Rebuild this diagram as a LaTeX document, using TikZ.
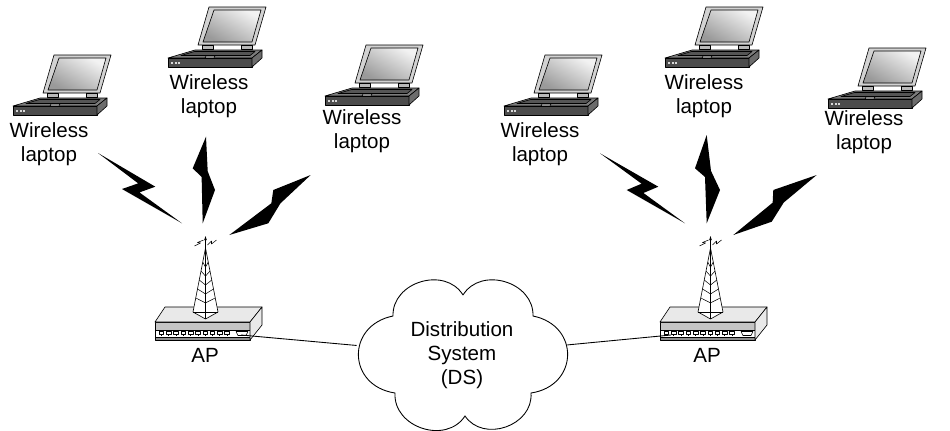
\documentclass[tikz,border=0pt]{standalone}
\usepackage{fontspec}
\setmainfont{Liberation Sans}
\usetikzlibrary{calc,shapes.geometric}

\definecolor{lidgray}{HTML}{D2D2D2}
\definecolor{scrdark}{HTML}{9A9A9A}
\definecolor{scrlight}{HTML}{F2F2F2}
\definecolor{basetop}{HTML}{7C7C7C}
\definecolor{keybd}{HTML}{555555}
\definecolor{basefront}{HTML}{4C4C4C}
\definecolor{baseside}{HTML}{6C6C6C}
\definecolor{boxtop}{HTML}{E9E9E9}
\definecolor{boxband}{HTML}{C4C4C4}
\definecolor{boxfoot}{HTML}{8C8C8C}

% lightning bolts: tip, first corner, second corner, tip
% (zbolt steps back along its axis, nbolt steps forward)
\newcommand{\zbolt}[4]{%
  \fill (#1) -- (#2) -- ($(#2)!0.65!(#3)!0.12!(#4)$) -- (#4) -- (#3)
    -- ($(#3)!0.65!(#2)!0.12!(#1)$) -- cycle;}
\newcommand{\nbolt}[4]{%
  \fill (#1) -- (#2) -- ($(#2)!0.4!(#3)$) -- (#4) -- (#3)
    -- ($(#2)!0.7!(#3)!0.26!(#1)$) -- cycle;}

\tikzset{
  lbl/.style={font=\fontsize{11.7}{13.7}\selectfont, align=center, inner sep=0pt},
  link/.style={draw=black, line width=0.5pt},
  part/.style={draw=black, line width=0.35pt, line join=round},
  puff/.style={bend left=75, looseness=1.2},
  sidepuff/.style={bend left=80, looseness=1.6},
  laptop/.pic={
    % lid and screen
    \filldraw[part, fill=lidgray] (30,-22) -- (87,-22) -- (98,-60) -- (41,-60) -- cycle;
    \shadedraw[part, top color=scrlight, bottom color=scrdark, shading angle=-30]
      (35,-25) -- (84,-25) -- (93,-57) -- (46,-57) -- cycle;
    % hinges
    \filldraw[part, fill=gray!55] (34,-22) rectangle (45,-18);
    \filldraw[part, fill=gray!55] (73,-22) rectangle (84,-18);
    % base
    \filldraw[part, fill=basetop] (0,-9) -- (84,-9) -- (94,-17) -- (27,-17) -- cycle;
    \filldraw[part, fill=keybd] (13,-11.5) -- (82,-11.5) -- (87,-15.5) -- (26.5,-15.5) -- cycle;
    \filldraw[part, fill=gray!35] (37,-9) -- (46,-9) -- (47,-11) -- (38,-11) -- cycle;
    \filldraw[part, fill=basefront] (0,-9) rectangle (84,0);
    \filldraw[part, fill=baseside] (84,0) -- (84,-9) -- (94,-17) -- (94,-9) -- cycle;
    \foreach \x in {3,6.5,10}
      \fill[gray!30] (\x,-5.5) rectangle ++(2,2);
  },
  apbox/.pic={
    % front of the box
    \fill[boxband] (0,0) rectangle (95,8);
    \fill[white] (0,8) rectangle (95,15);
    \fill[boxfoot] (0,15) rectangle (95,18);
    \draw[part] (0,0) rectangle (95,18) (0,8) -- (95,8) (0,15) -- (95,15);
    \foreach \i in {0,...,9}
      \draw[part, line width=0.3pt] ({4+7.3*\i},9.5) rectangle ++(4.6,3)
        ({6.3+7.3*\i},12.5) -- ++(0,1.5);
    \draw[part, line width=0.3pt] (81,9.5) -- (93,9.5) -- (91,13.5) -- (83,13.5) -- cycle;
    % top and side
    \filldraw[part, fill=boxtop] (0,0) -- (95,0) -- (107,-15) -- (10,-15) -- cycle;
    \filldraw[part, fill=boxtop] (95,0) -- (107,-15) -- (107,3) -- (95,18) -- cycle;
    \coordinate (-west) at (11,13);
    \coordinate (-east) at (86,13);
    % mast
    \begin{scope}[shift={(50.5,-10)}]
      \filldraw[part, fill=white] (-12.5,0) -- (0,-64) -- (12.5,0) -- (0,7) -- cycle;
      \draw[part] (-12.5,0) -- (12.5,0) (0,-64) -- (0,7);
      \foreach \f in {0.22,0.36,0.5,0.64,0.78}
        \draw[part, line width=0.3pt] ({-12.5*\f},{-64+64*\f}) -- (0,{-59+64*\f})
          -- ({12.5*\f},{-64+64*\f});
      \draw[part, line width=0.3pt] (0,-64) -- (0,-73);
      \fill (0,-76) -- (-1.3,-72) -- (1.3,-72) -- cycle;
      \draw[part, line width=0.3pt] (-11,-66) -- (-5,-69) -- (-8,-69.5) -- (-2,-72);
      \draw[part, line width=0.3pt] (2,-67) -- (6,-71) -- (6,-68) -- (11,-72);
    \end{scope}
  },
}

\begin{document}
\begin{tikzpicture}[x=0.02cm, y=-0.02cm]
\useasboundingbox (0,0) rectangle (950,430);

% laptops
\coordinate (lapA) at (13,115);
\coordinate (lapB) at (168,67);
\coordinate (lapC) at (325,105);
\coordinate (lapD) at (504,115);
\coordinate (lapE) at (665,67);
\coordinate (lapF) at (828,108);
\foreach \l in {lapA,lapB,lapC,lapD,lapE,lapF}
  \pic at (\l) {laptop};

% access points
\pic (apL) at (155,322) {apbox};
\pic (apR) at (660,322) {apbox};

% radio links
\zbolt{98,153}{155.3,186.7}{122,189}{182,223.3}
\nbolt{206,136.7}{192.7,168.3}{215,190}{202.7,223.3}
\nbolt{310.7,175}{273.3,190}{268.3,223.3}{229.3,235}
\zbolt{600,153.3}{658.3,186.7}{626.7,190}{685,223.3}
\nbolt{706.7,135}{695,168.3}{720,190}{706.7,223.3}
\nbolt{816.7,175}{773.3,190}{771.7,221.7}{733.3,235}

\begin{scope}[every node/.style={lbl}]
  \node (lapAtxt) at (49,144.5) {Wireless\\laptop};
  \node (lapBtxt) at (209,96) {Wireless\\laptop};
  \node (lapCtxt) at (362,131) {Wireless\\laptop};
  \node (lapDtxt) at (540,144.5) {Wireless\\laptop};
  \node (lapEtxt) at (704,96) {Wireless\\laptop};
  \node (lapFtxt) at (864,132) {Wireless\\laptop};
  \node (apLtxt) at (205,355) {AP};
  \node (apRtxt) at (707,355) {AP};
  \node[ellipse, minimum width=4.24cm, minimum height=2.94cm] (ds) at (462,355)
    {Distribution\\System\\(DS)};
\end{scope}

% the distribution system cloud
\draw[link] (463,295) to[puff] (533,316) to[sidepuff] (531,393)
  to[puff] (465,416) to[puff] (395,393) to[sidepuff] (393,316)
  to[puff] (463,295);

\path[link] (apL-east) edge (ds)
  (ds) edge (apR-west);
\end{tikzpicture}
\end{document}
